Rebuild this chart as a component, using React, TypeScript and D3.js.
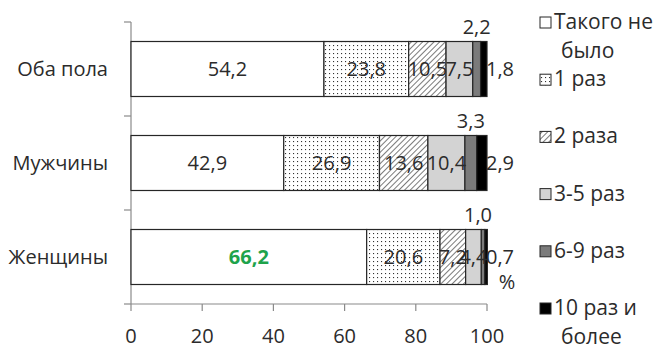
import React from "react";
import * as d3 from "d3";

const categories = ["Оба пола", "Мужчины", "Женщины"];
const seriesNames = ["Такого не было", "1 раз", "2 раза", "3-5 раз", "6-9 раз", "10 раз и более"];
const seriesLabelLines = [["Такого не", "было"], ["1 раз"], ["2 раза"], ["3-5 раз"], ["6-9 раз"], ["10 раз и", "более"]];
const bothValues = [54.2, 23.8, 10.5, 7.5, 2.2, 1.8];
const menValues = [42.9, 26.9, 13.6, 10.4, 3.3, 2.9];
const womenValues = [66.2, 20.6, 7.2, 4.4, 1.0, 0.7];
const xTicks = [0, 20, 40, 60, 80, 100];

const W = 664;
const H = 349;
const FONT = "'Open Sans', 'Noto Sans', sans-serif";
const TEXT = "#2b2b2b";

const fills = ["#ffffff", "url(#dots)", "url(#hatch)", "#d3d3d3", "#7b7b7b", "#000000"];
const labelPlacement = ["center", "center", "center", "center", "above", "right"];

export default function App() {
  const rows = [bothValues, menValues, womenValues];
  const x = d3.scaleLinear().domain([0, 100]).range([131, 487]);
  const y = d3
    .scaleBand<string>()
    .domain(categories)
    .range([22, 304])
    .paddingInner(0.415)
    .paddingOuter(0.2075);
  const bw = y.bandwidth();
  const step = y.step();
  const fmt = (v: number) => v.toFixed(1).replace(".", ",");

  const stacks = rows.map((vals) => {
    let acc = 0;
    return vals.map((v) => {
      const s = acc;
      acc += v;
      return [s, acc];
    });
  });

  return (
    <svg
      width={W}
      height={H}
      style={{ position: "absolute", left: 0, top: 0, background: "#fff" }}
      fontFamily={FONT}
    >
      <defs>
        <pattern id="dots" width="4" height="4" patternUnits="userSpaceOnUse">
          <rect width="4" height="4" fill="#fff" />
          <rect x="1" y="1" width="1.1" height="1.1" fill="#333" />
        </pattern>
        <pattern
          id="hatch"
          width="4"
          height="4"
          patternUnits="userSpaceOnUse"
          patternTransform="rotate(45)"
        >
          <rect width="4" height="4" fill="#fff" />
          <line x1="0" y1="0" x2="0" y2="4" stroke="#333" strokeWidth="1.3" />
        </pattern>
      </defs>

      {/* y axis */}
      <line x1={x(0)} x2={x(0)} y1={22} y2={304} stroke="#8a8a8a" strokeWidth={1.2} />
      {d3.range(categories.length + 1).map((i) => (
        <line
          key={"yt" + i}
          x1={x(0) - 7}
          x2={x(0)}
          y1={22 + i * step}
          y2={22 + i * step}
          stroke="#8a8a8a"
          strokeWidth={1.2}
        />
      ))}
      {/* x axis */}
      <line x1={x(0)} x2={x(100)} y1={304} y2={304} stroke="#8a8a8a" strokeWidth={1.2} />
      {xTicks.map((t) => (
        <g key={"xt" + t}>
          <line x1={x(t)} x2={x(t)} y1={304} y2={311} stroke="#8a8a8a" strokeWidth={1.2} />
          <text x={x(t)} y={343} textAnchor="middle" fontSize={20} fill={TEXT}>
            {t}
          </text>
        </g>
      ))}
      <text x={507} y={289} textAnchor="middle" fontSize={20} fill={TEXT}>
        %
      </text>

      {/* category labels */}
      {categories.map((c) => (
        <text
          key={c}
          x={108}
          y={(y(c) as number) + bw / 2 + 7}
          textAnchor="end"
          fontSize={20}
          fill={TEXT}
        >
          {c}
        </text>
      ))}

      {/* bars */}
      {categories.map((c, ci) => {
        const top = y(c) as number;
        return (
          <g key={"bar" + c}>
            {stacks[ci].map(([s, e], si) => (
              <rect
                key={si}
                x={x(s)}
                y={top}
                width={x(e) - x(s)}
                height={bw}
                fill={fills[si]}
                stroke="#262626"
                strokeWidth={1.2}
              />
            ))}
          </g>
        );
      })}

      {/* value labels */}
      {categories.map((c, ci) => {
        const top = y(c) as number;
        return (
          <g key={"lab" + c}>
            {stacks[ci].map(([s, e], si) => {
              const v = rows[ci][si];
              const place = labelPlacement[si];
              let lx = (x(s) + x(e)) / 2;
              let ly = top + bw / 2 + 7;
              if (place === "above") {
                lx = Math.min(lx, 478);
                ly = top - 8;
              } else if (place === "right") {
                lx = x(100) + 13;
              }
              const isGreen = ci === 2 && si === 0;
              return (
                <text
                  key={si}
                  x={lx}
                  y={ly}
                  textAnchor="middle"
                  fontSize={20}
                  fontWeight={isGreen ? 700 : 400}
                  fill={isGreen ? "#1ea34b" : TEXT}
                >
                  {fmt(v)}
                </text>
              );
            })}
          </g>
        );
      })}

      {/* legend */}
      {seriesNames.map((n, i) => {
        const base = 29 + i * 57.2;
        return (
          <g key={"lg" + n}>
            <rect
              x={540}
              y={base - 12}
              width={11}
              height={11}
              fill={fills[i]}
              stroke="#262626"
              strokeWidth={1}
            />
            {seriesLabelLines[i].map((ln, li) => (
              <text
                key={li}
                x={li === 0 ? 554 : 561}
                y={base + li * 29}
                fontSize={21}
                fill={TEXT}
              >
                {ln}
              </text>
            ))}
          </g>
        );
      })}
    </svg>
  );
}
